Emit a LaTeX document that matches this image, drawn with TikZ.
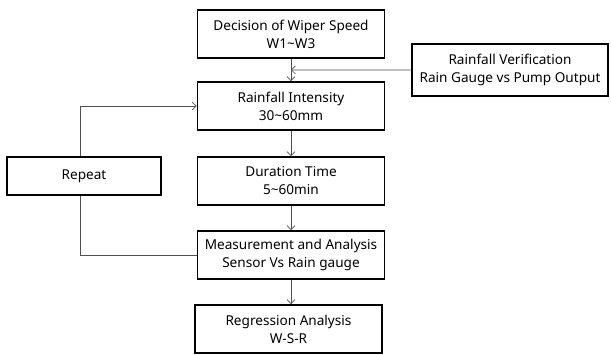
\documentclass[tikz,border=0pt]{standalone}
\usepackage{fontspec}
\setmainfont{Noto Sans}
\usetikzlibrary{arrows.meta,calc}
\definecolor{linkgray}{RGB}{80,80,80}

\tikzset{
    stepbox/.style={draw, line width=1.6pt, fill=white, minimum width=187pt, minimum height=48pt, align=center, font=\fontsize{13.6}{18}\selectfont},
    link/.style={linkgray, line width=0.7pt},
    linkarrow/.style={link, -{Straight Barb[length=4pt, width=8pt]}}
}

\begin{document}
\begin{tikzpicture}[x=1pt, y=-1pt]
            \useasboundingbox (0,0) rectangle (611,355);

            % Lazo de repetición (detrás de las cajas)
            \coordinate (loopdown) at (80,255);
            \coordinate (loopup) at (80,106);

            % Cajas principales
            \node[stepbox] (speed) at (291,34) {Decision of Wiper Speed\\W1\textasciitilde W3};
            \node[stepbox] (intensity) at (291,106) {Rainfall Intensity\\30\textasciitilde 60mm};
            \node[stepbox] (duration) at (291,181) {Duration Time\\5\textasciitilde 60min};
            \node[stepbox] (measure) at (291,255) {Measurement and Analysis\\Sensor Vs Rain gauge};
            \node[stepbox] (regress) at (288.5,329) {Regression Analysis\\W-S-R};

            % Cajas laterales
            \node[stepbox, minimum width=196pt, minimum height=52pt] (verify) at (510,70) {Rainfall Verification\\Rain Gauge vs Pump Output};

            % Flujo vertical
            \foreach \a/\b in {speed/intensity, intensity/duration, duration/measure, measure/regress} {
                \draw[linkarrow] (\a.south) -- (\a.south |- \b.north);
            }

            % Verificación hacia la línea principal
            \coordinate (join) at ($(speed.south)!0.5!(intensity.north)$);
            \draw[linkarrow] (verify.west) -- (join);

            % Repetición
            \draw[link] (measure.west) -- (loopdown) -- (loopup);
            \draw[linkarrow] (loopup) -- (intensity.west);
            \node[stepbox, minimum width=154pt, minimum height=38pt] (repeat) at (84,176) {Repeat};
        \end{tikzpicture}
\end{document}
